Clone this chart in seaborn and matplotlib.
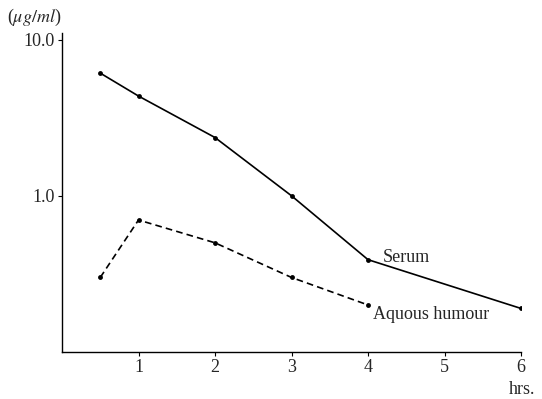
import numpy as np
import pandas as pd
import matplotlib
matplotlib.use("Agg")
import matplotlib.pyplot as plt
import seaborn as sns

# data (hours vs concentration, ug/ml)
serum_hrs = [0.5, 1, 2, 3, 4, 6]
serum_conc = [6.1, 4.35, 2.36, 1.0, 0.39, 0.19]
aqueous_hrs = [0.5, 1, 2, 3, 4]
aqueous_conc = [0.30, 0.70, 0.50, 0.30, 0.20]

sns.set_style("white")
plt.rcParams['font.family'] = ['Liberation Serif', 'DejaVu Serif']
plt.rcParams['mathtext.fontset'] = 'stix'

fig = plt.figure(figsize=(5.42, 3.99), dpi=100)
ax = fig.add_axes([0.1144, 0.1178, 0.9613 - 0.1144, 0.917 - 0.1178])

sns.lineplot(x=serum_hrs, y=serum_conc, ax=ax, color='black', lw=1.2,
             marker='o', markersize=3.5, markeredgewidth=0)
sns.lineplot(x=aqueous_hrs, y=aqueous_conc, ax=ax, color='black', lw=1.2,
             linestyle=(0, (4, 2.5)), marker='o', markersize=3.5, markeredgewidth=0)

ax.set_yscale('log')
ax.set_ylim(0.1, 11)
ax.set_xlim(0, 6)
ax.set_yticks([10, 1])
ax.set_yticklabels(['10.0', '1.0'])
ax.yaxis.set_minor_locator(matplotlib.ticker.NullLocator())
ax.set_xticks([1, 2, 3, 4, 5, 6])

for s in ['top', 'right']:
    ax.spines[s].set_visible(False)
for s in ['left', 'bottom']:
    ax.spines[s].set_color('black')
    ax.spines[s].set_linewidth(1.0)
ax.tick_params(direction='out', length=3, width=0.8, color='black',
               labelsize=13, pad=2, left=True, bottom=True)

ax.text(4.19, 0.405, 'Serum', fontsize=13, ha='left', va='center')
ax.text(4.07, 0.173, 'Aquous humour', fontsize=13, ha='left', va='center')

fig.text(0.012, 0.957, r'($\mu g/ml$)', fontsize=13, ha='left', va='center')
fig.text(0.988, 0.025, 'hrs.', fontsize=13, ha='right', va='center')

fig.savefig("out.png", dpi=100)
